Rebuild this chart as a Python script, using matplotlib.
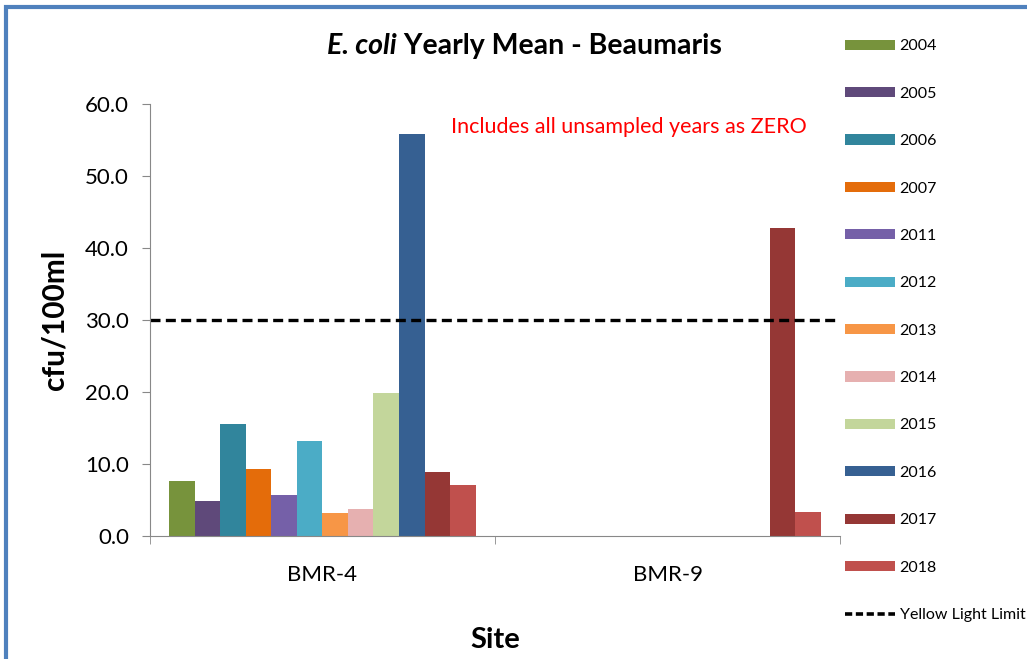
import numpy as np
import matplotlib.pyplot as plt
from matplotlib.patches import Rectangle, Patch
from matplotlib.lines import Line2D

plt.rcParams['font.family'] = ['Lato', 'DejaVu Sans']

sites = ['BMR-4', 'BMR-9']
years = ['2004', '2005', '2006', '2007', '2011', '2012',
         '2013', '2014', '2015', '2016', '2017', '2018']
bmr4 = [7.6, 4.9, 15.6, 9.3, 5.7, 13.2, 3.2, 3.7, 19.8, 55.8, 8.8, 7.0]
bmr9 = [0, 0, 0, 0, 0, 0, 0, 0, 0, 0, 42.8, 3.3]
yellow_limit = 30.0
colors = ['#77933C', '#5F497A', '#31859C', '#E46C0A', '#7560A8', '#4BACC6',
          '#F79646', '#E6B0B0', '#C3D69B', '#366092', '#953735', '#C0504D']

fig = plt.figure(figsize=(10.27, 6.59), dpi=100)
ax = fig.add_axes([0.146, 0.187, 0.672, 0.655])

values = np.array([bmr4, bmr9])
x = np.arange(len(sites))
w = 0.887 / len(years)
for i, yr in enumerate(years):
    ax.bar(x + (i - 5.5) * w, values[:, i], w, color=colors[i], label=yr)

ax.axhline(yellow_limit, color='black', ls=(0, (3, 1.6)), lw=2.4)

ax.set_xlim(-0.5, 1.5)
ax.set_ylim(0, 60)
ax.set_yticks(np.arange(0, 61, 10))
ax.set_yticklabels([f'{v:.1f}' for v in np.arange(0, 61, 10)], fontsize=16)
ax.set_xticks(x)
ax.set_xticklabels(sites, fontsize=16)
ax.set_xticks([-0.5, 0.5, 1.5], minor=True)
ax.tick_params(axis='x', which='major', length=0, pad=21)
ax.tick_params(axis='x', which='minor', length=6, color='#888888')
ax.tick_params(axis='y', length=6, color='#888888', pad=9)
for s in ['top', 'right']:
    ax.spines[s].set_visible(False)
for s in ['left', 'bottom']:
    ax.spines[s].set_color('#888888')

ax.set_ylabel('cfu/100ml', fontsize=21.5, fontweight='bold', labelpad=12)
ax.set_xlabel('Site', fontsize=21, fontweight='bold', labelpad=30)

fig.text(0.3865, 0.93, 'E. coli', fontsize=20.5, ha='right', va='center',
         fontweight='bold', style='italic')
fig.text(0.387, 0.93, ' Yearly Mean - Beaumaris', fontsize=20.5, ha='left',
         va='center', fontweight='bold')
fig.text(0.612, 0.808, 'Includes all unsampled years as ZERO', color='#FF0000',
         fontsize=15.5, ha='center', va='center')

handles = [Patch(facecolor=c, label=y) for c, y in zip(colors, years)]
handles.append(Line2D([0], [0], color='black', ls=(0, (2, 1)), lw=2.6,
                      label='Yellow Light Limit'))
fig.legend(handles=handles, loc='upper left', bbox_to_anchor=(0.809, 0.962),
           frameon=False, fontsize=11.5, handlelength=3.1, handleheight=0.6,
           labelspacing=2.09, handletextpad=0.3)

fig.patches.append(Rectangle((0.006, -0.01), 1.1, 1.0, transform=fig.transFigure,
                             fill=False, edgecolor='#4F81BD', lw=3))

fig.savefig('out.png', dpi=100)
